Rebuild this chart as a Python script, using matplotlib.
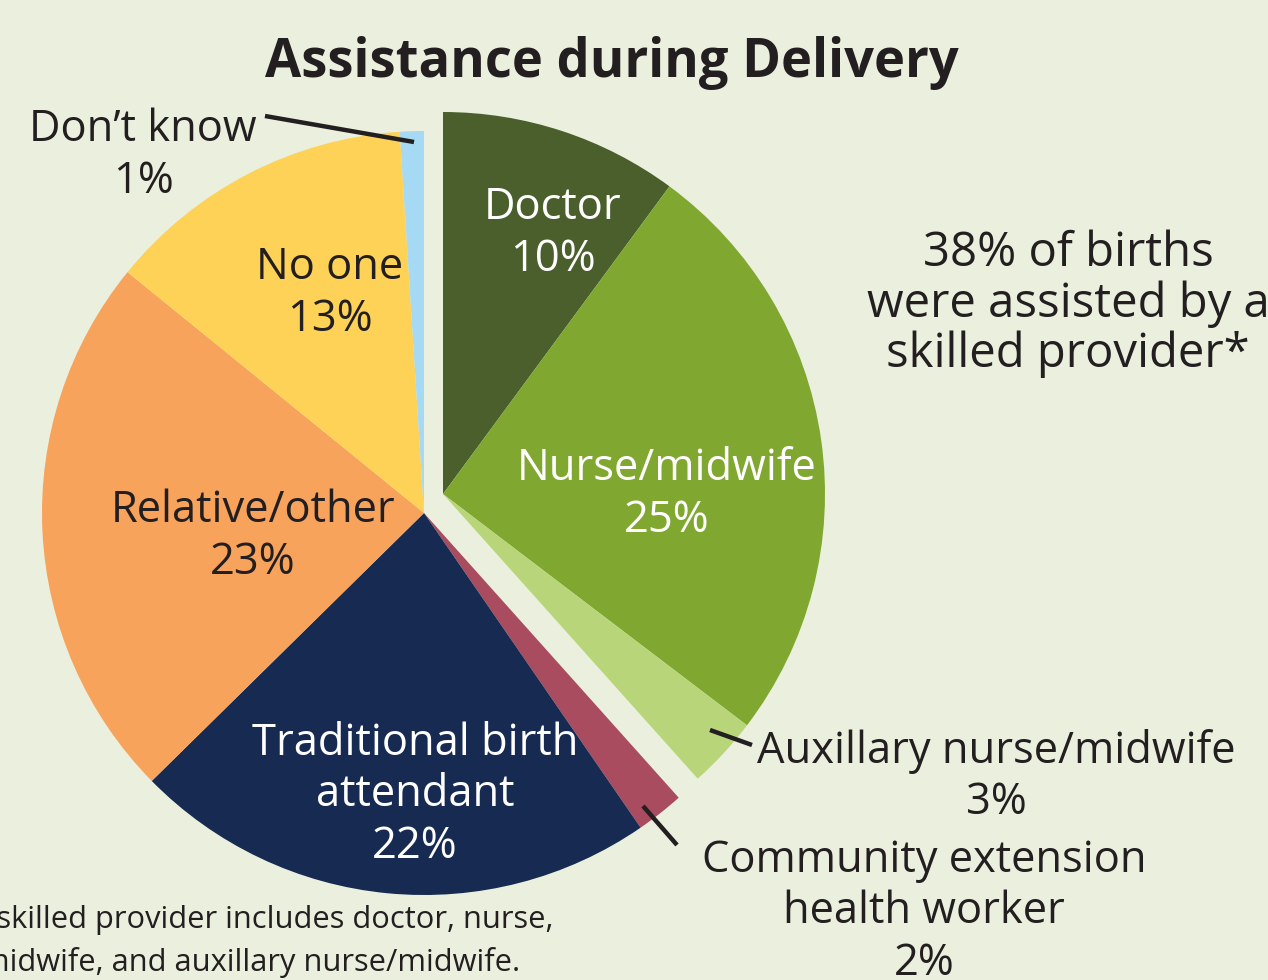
import matplotlib.pyplot as plt
from matplotlib.patches import Wedge

# slice data, clockwise from 12 o'clock
labels = ["Doctor", "Nurse/midwife", "Auxillary nurse/midwife",
          "Community extension\nhealth worker", "Traditional birth\nattendant",
          "Relative/other", "No one", "Don\u2019t know"]
values = [10, 25, 3, 2, 22, 23, 13, 1]
colors = ["#4b5f2c", "#80a830", "#b8d679", "#a94c60",
          "#172a52", "#f8a35b", "#fed257", "#a6daf4"]
skilled = [True, True, True, False, False, False, False, False]

BG = "#ebf0de"
INK = "#231f20"
FONT = "Open Sans"

main_center = (424, 513)
skilled_center = (443, 494)
radius = 382

fig = plt.figure(figsize=(12.68, 9.8), dpi=100, facecolor=BG)
ax = fig.add_axes([0, 0, 1, 1])
ax.set_facecolor(BG)
ax.set_xlim(0, 1268)
ax.set_ylim(980, 0)
ax.axis("off")

total = sum(values)
start = 0
for val, col, sk in zip(values, colors, skilled):
    # y axis is flipped, so increasing angle runs clockwise on screen
    t1 = -90 + start / total * 360
    t2 = -90 + (start + val) / total * 360
    c = skilled_center if sk else main_center
    ax.add_patch(Wedge(c, radius, t1, t2, facecolor=col, edgecolor="none"))
    start += val

def txt(x, y, s, color=INK, size=31.3, ls=1.21, **kw):
    ax.text(x, y, s, color=color, fontsize=size, family=FONT,
            ha="center", va="center", linespacing=ls, **kw)

ax.text(612, 63, "Assistance during Delivery", fontsize=37.8, fontweight="bold",
        family=FONT, color=INK, ha="center", va="center")

# inside labels
txt(553, 234, "Doctor\n10%", color="white")
txt(667, 495, "Nurse/midwife\n25%", color="white")
txt(415, 795, "Traditional birth\nattendant\n22%", color="white")
txt(253, 537, "Relative/other\n23%")
txt(330, 294, "No one\n13%")

# outside labels with leader lines
txt(143, 156, "Don\u2019t know\n1%")
ax.plot([265, 414], [116, 142], color=INK, lw=3.2, solid_capstyle="butt")
txt(996, 777, "Auxillary nurse/midwife\n3%")
ax.plot([710, 752], [730, 745], color=INK, lw=3.2, solid_capstyle="butt")
txt(924, 912, "Community extension\nhealth worker\n2%")
ax.plot([643, 677], [806, 845], color=INK, lw=3.2, solid_capstyle="butt")

txt(1068, 304, "38% of births\nwere assisted by a\nskilled provider*", size=34, ls=1.08)

# footnote, cut off at the left edge like the source
ax.text(553, 920, "*A skilled provider includes doctor, nurse,", fontsize=22.2,
        family=FONT, color=INK, ha="right", va="center")
ax.text(520, 962, "midwife, and auxillary nurse/midwife.", fontsize=22.2,
        family=FONT, color=INK, ha="right", va="center")

fig.savefig("out.png", dpi=100, facecolor=BG)
